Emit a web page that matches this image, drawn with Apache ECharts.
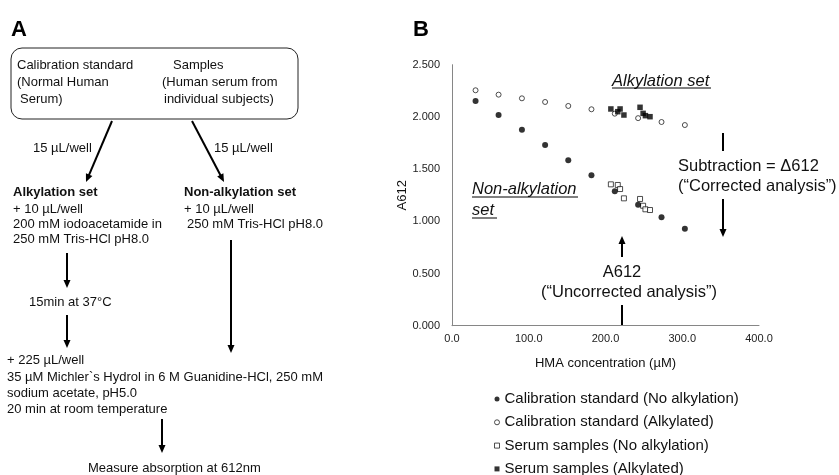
<!DOCTYPE html>
<html>
<head>
<meta charset="utf-8">
<script src="https://cdn.jsdelivr.net/npm/echarts@6/dist/echarts.min.js"></script>
<style>
html,body{margin:0;padding:0;background:#fff;}
#c{width:839px;height:475px;}
</style>
</head>
<body>
<div id="c"></div>
<script>
// ---- data ----
const calX = [30.7, 60.7, 91.1, 121.3, 151.5, 181.7, 212.1, 242.5, 273.0, 303.4];
const calNoAlkY = [2.152, 2.018, 1.877, 1.731, 1.584, 1.440, 1.287, 1.159, 1.038, 0.929];
const calAlkY = [2.255, 2.213, 2.178, 2.143, 2.105, 2.073, 2.031, 1.988, 1.951, 1.922];
const serumX = [207, 216, 219, 224, 245, 249, 252, 258];
const serumNoAlkY = [1.354, 1.348, 1.309, 1.220, 1.214, 1.149, 1.115, 1.108];
const serumAlkY = [2.076, 2.050, 2.076, 2.018, 2.092, 2.034, 2.012, 2.002];
const xTicks = [0, 100, 200, 300, 400];
const yTicks = [0, 0.5, 1.0, 1.5, 2.0, 2.5];
const seriesNames = [
  'Calibration standard (No alkylation)',
  'Calibration standard (Alkylated)',
  'Serum samples (No alkylation)',
  'Serum samples (Alkylated)'
];

const FONT = '"Liberation Sans", Arial, sans-serif';
const pair = (xs, ys) => xs.map((x, i) => [x, ys[i]]);

function txt(x, y, s, size, opts) {
  opts = opts || {};
  return {
    type: 'text', x: x, y: y, silent: true,
    style: {
      text: s, fill: opts.fill || '#111',
      font: (opts.style || 'normal') + ' ' + (opts.weight || 'normal') + ' ' + size + 'px ' + FONT,
      align: opts.align || 'left', verticalAlign: 'middle'
    }
  };
}
function line(x1, y1, x2, y2, w) {
  return { type: 'line', silent: true, shape: { x1, y1, x2, y2 }, style: { stroke: '#000', lineWidth: w || 2 } };
}
function arrow(x1, y1, x2, y2, w, hl, hw) {
  hl = hl || 8; hw = hw || 3.5;
  const dx = x2 - x1, dy = y2 - y1, L = Math.sqrt(dx * dx + dy * dy);
  const ux = dx / L, uy = dy / L;
  const bx = x2 - ux * hl, by = y2 - uy * hl;
  return [
    line(x1, y1, bx + ux * 1, by + uy * 1, w || 2),
    { type: 'polygon', silent: true, shape: { points: [[x2, y2], [bx - uy * hw, by + ux * hw], [bx + uy * hw, by - ux * hw]] }, style: { fill: '#000' } }
  ];
}

const g = [];
const BF = 16.5;
// Panel labels
g.push(txt(11, 30, 'A', 22, { weight: 'bold', fill: '#000' }));
g.push(txt(413, 30, 'B', 22, { weight: 'bold', fill: '#000' }));
// Panel A flowchart
g.push({ type: 'rect', silent: true, shape: { x: 11, y: 48, width: 287, height: 71, r: 11 }, style: { fill: 'none', stroke: '#222', lineWidth: 1 } });
g.push(txt(17, 65, 'Calibration standard', 13));
g.push(txt(17, 82, '(Normal Human', 13));
g.push(txt(20, 99, 'Serum)', 13));
g.push(txt(173, 65, 'Samples', 13));
g.push(txt(162, 82, '(Human serum from', 13));
g.push(txt(164, 99, 'individual subjects)', 13));
g.push(...arrow(112, 121, 86, 182));
g.push(...arrow(192, 121, 224, 182));
g.push(txt(33, 148, '15 µL/well', 13));
g.push(txt(214, 148, '15 µL/well', 13));
g.push(txt(13, 192, 'Alkylation set', 13, { weight: 'bold' }));
g.push(txt(13, 209, '+ 10 µL/well', 13));
g.push(txt(13, 224, '200 mM iodoacetamide in', 13));
g.push(txt(13, 239, '250 mM Tris-HCl pH8.0', 13));
g.push(txt(184, 192, 'Non-alkylation set', 13, { weight: 'bold' }));
g.push(txt(184, 209, '+ 10 µL/well', 13));
g.push(txt(187, 224, '250 mM Tris-HCl pH8.0', 13));
g.push(...arrow(67, 253, 67, 288));
g.push(txt(29, 302, '15min at 37°C', 13));
g.push(...arrow(67, 315, 67, 348));
g.push(...arrow(231, 240, 231, 353));
g.push(txt(7, 360, '+ 225 µL/well', 13));
g.push(txt(7, 377, '35 µM Michler`s Hydrol in 6 M Guanidine-HCl, 250 mM', 13));
g.push(txt(7, 393, 'sodium acetate, pH5.0', 13));
g.push(txt(7, 409, '20 min at room temperature', 13));
g.push(...arrow(162, 419, 162, 453));
g.push(txt(88, 468, 'Measure absorption at 612nm', 13));
// Panel B annotations
g.push(txt(612, 81, 'Alkylation set', BF, { style: 'italic' }));
g.push(line(612, 88, 711, 88, 1));
g.push(txt(472, 189, 'Non-alkylation', BF, { style: 'italic' }));
g.push(line(472, 197, 578, 197, 1));
g.push(txt(472, 210, 'set', BF, { style: 'italic' }));
g.push(line(472, 218, 497, 218, 1));
g.push(line(723, 133, 723, 151, 2));
g.push(txt(678, 166, 'Subtraction = Δ612', BF));
g.push(txt(678, 186, '(“Corrected analysis”)', BF));
g.push(...arrow(723, 199, 723, 237));
g.push(...arrow(622, 257, 622, 236));
g.push(txt(622, 272, 'A612', BF, { align: 'center' }));
g.push(txt(629, 292, '(“Uncorrected analysis”)', BF, { align: 'center' }));
g.push(line(622, 305, 622, 325, 2));

const chart = echarts.init(document.getElementById('c'), null, { renderer: 'canvas' });
chart.setOption({
  animation: false,
  backgroundColor: '#fff',
  textStyle: { fontFamily: FONT },
  grid: { left: 452, top: 64.7, width: 307, height: 261, containLabel: false },
  xAxis: {
    type: 'value', min: xTicks[0], max: xTicks[xTicks.length - 1], interval: xTicks[1] - xTicks[0],
    name: 'HMA concentration (µM)', nameLocation: 'middle', nameGap: 31,
    nameTextStyle: { fontSize: 13, color: '#111', fontFamily: FONT },
    axisLine: { lineStyle: { color: '#868686', width: 1 } },
    axisTick: { show: false }, splitLine: { show: false },
    axisLabel: { fontSize: 11, color: '#222', margin: 8, formatter: v => v.toFixed(1), fontFamily: FONT }
  },
  yAxis: {
    type: 'value', min: yTicks[0], max: yTicks[yTicks.length - 1], interval: yTicks[1] - yTicks[0],
    name: 'A612', nameLocation: 'middle', nameGap: 43, nameRotate: 90,
    nameTextStyle: { fontSize: 13, color: '#111', fontFamily: FONT },
    axisLine: { show: true, lineStyle: { color: '#868686', width: 1 } },
    axisTick: { show: false }, splitLine: { show: false },
    axisLabel: { fontSize: 11, color: '#222', margin: 12, formatter: v => v.toFixed(3), fontFamily: FONT }
  },
  legend: {
    orient: 'vertical', left: 494, top: 391.5, height: 100, padding: 0, itemWidth: 5, itemHeight: 5, itemGap: 8.3,
    textStyle: { fontSize: 15, color: '#111', fontFamily: FONT, lineHeight: 15 },
    data: [
      { name: seriesNames[0], icon: 'circle' },
      { name: seriesNames[1], icon: 'circle', itemStyle: { borderWidth: 1 } },
      { name: seriesNames[2], icon: 'rect', itemStyle: { borderWidth: 1 } },
      { name: seriesNames[3], icon: 'rect' }
    ]
  },
  series: [
    { name: seriesNames[0], type: 'scatter', symbol: 'circle', symbolSize: 6,
      itemStyle: { color: '#000', borderColor: '#000', borderWidth: 0 }, data: pair(calX, calNoAlkY), z: 3 },
    { name: seriesNames[1], type: 'scatter', symbol: 'circle', symbolSize: 5,
      itemStyle: { color: '#fff', borderColor: '#222', borderWidth: 1 }, data: pair(calX, calAlkY), z: 2 },
    { name: seriesNames[2], type: 'scatter', symbol: 'rect', symbolSize: 5,
      itemStyle: { color: '#fff', borderColor: '#222', borderWidth: 1 }, data: pair(serumX, serumNoAlkY), z: 2 },
    { name: seriesNames[3], type: 'scatter', symbol: 'rect', symbolSize: 5.5,
      itemStyle: { color: '#000', borderColor: '#000', borderWidth: 0 }, data: pair(serumX, serumAlkY), z: 3 }
  ],
  graphic: { elements: g }
});
</script>
</body>
</html>
